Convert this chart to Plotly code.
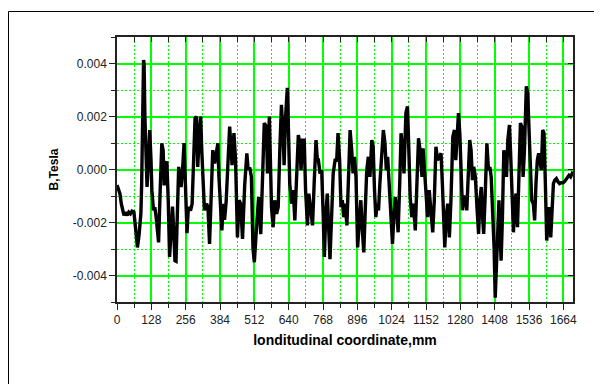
import plotly.graph_objects as go

# ---- data ----
x_mm = [0, 6, 11, 16, 26, 31, 38, 44, 50, 56, 63, 70, 76, 82, 89, 92, 96, 99, 101, 104,
        112, 118, 122, 127, 130, 136, 141, 146, 155, 161, 167, 172, 176, 182, 186, 191, 196,
        202, 207, 211, 216, 220, 226, 230, 235, 239, 245, 250, 255, 261, 266, 274, 280, 285,
        291, 296, 301, 307, 312, 316, 321, 326, 334, 339, 345, 351, 357, 364, 370, 376, 380,
        385, 391, 396, 401, 407, 414, 420, 429, 436, 442, 449, 455, 461, 468, 476, 484, 489,
        495, 501, 507, 512, 520, 528, 536, 543, 549, 557, 561, 568,
        576, 582, 588, 595, 601, 607, 613, 619, 623, 628, 635, 638, 644, 651, 657, 663, 669,
        676, 682, 686, 692, 698, 703, 710, 715, 722, 729, 735, 742, 747, 750, 757, 763, 769,
        773, 778, 784, 789, 794, 800, 806, 813, 819, 824, 830, 835, 840, 845, 851, 857, 862,
        869, 875, 880, 885, 891, 897, 903, 909, 914, 920, 925, 931, 937, 943, 950, 955, 960,
        965, 970, 975, 980, 987, 993, 999, 1004, 1009, 1014, 1020, 1027, 1032, 1037, 1042,
        1048, 1054, 1059, 1065, 1070, 1077, 1083, 1088, 1093, 1099, 1105, 1112, 1118, 1124,
        1130, 1137, 1141,
        1146, 1152, 1158, 1164, 1170, 1177, 1183, 1189, 1195, 1202, 1208, 1213, 1218, 1222,
        1227, 1233, 1239, 1245, 1252, 1258, 1263, 1268, 1273, 1278, 1283, 1288, 1293, 1299,
        1304, 1309, 1315, 1320, 1325, 1330, 1336, 1342, 1348, 1353, 1358, 1363, 1367, 1372,
        1379, 1385, 1390, 1395, 1401, 1406, 1410, 1415, 1420, 1424, 1428, 1432, 1437, 1442,
        1447, 1452, 1457, 1463, 1467, 1472, 1478, 1483, 1488, 1493, 1498, 1504, 1509, 1514,
        1519, 1526, 1531, 1536, 1541, 1546, 1552, 1557, 1562, 1567, 1572, 1577, 1582, 1587,
        1592, 1597, 1602, 1607, 1612, 1617, 1622, 1627, 1632, 1638, 1644, 1650, 1656, 1663,
        1669, 1675, 1680, 1685, 1691, 1697, 1700]

b_mT = [-0.59, -0.75, -0.91, -1.29, -1.73, -1.62, -1.73, -1.61, -1.67, -1.57, -1.6, -2.3, -2.94,
        -2.5, -1.67, -0.53, 2.0, 4.13, 4.0, 2.0,
        -0.66, 0.5, 1.49, 0.3, -0.78, -1.54, -1.42, -1.8, -2.75, -0.78, 0.99, 0.73, -0.6, 0.23,
        0.3, -1.16, -3.3, -2.3, -1.4, -2.2, -3.44, -3.46, -0.91, 0.1, -0.4, -0.66, 0.1, 1.0,
        -0.53, -2.4, -1.42, -1.55, -1.3, -0.03, 1.94, 2.0, 0.1, 1.37, 2.0, 0.73, -0.53, -1.54,
        -1.29, -1.42, -2.81, -1.16, 0.73, 0.23, 0.73, 0.99, -0.28, -1.16, -2.3, -1.3, -1.9,
        -1.2, 0.5, 1.62, 0.16, 1.37, 0.35, -2.56, -1.16, -1.29, -2.62, -0.6, 0.61, 0.0, 0.07,
        -0.28, -3.0, -3.5, -2.2, -1.04, -2.44, -0.4, 1.75, 1.62, -0.15, 2.0,
        -1.42, -2.18, -1.16, -1.67, -1.42, 0.73, 2.44, 1.37, 0.16, 1.9, 3.08, 2.0, -0.53, -1.29,
        -0.78, -1.92, -0.53, 1.3, 0.99, -0.03, 1.11, 1.11, -0.78, -2.11, -0.91, -1.42, -2.11,
        -0.53, 1.11, 0.35, 0.42, -0.15, -0.03, -1.8, -3.3, -1.8, -0.91, -2.18, -3.38, -1.8,
        -0.15, 0.35, 0.35, 1.37, 0.35, -1.42, -1.16, -1.8, -1.29, -2.11, -0.28, 1.49, 0.73,
        -0.15, 0.48, -0.28, -2.94, -1.8, -1.16, -2.18, -3.13, -1.67, -0.03, 0.48, -0.28, 1.11,
        0.86, -0.78, -1.8, -1.29, -1.54, -0.53, 0.48, 1.49, 0.99, -0.03, 0.48, -0.53, -1.54,
        -2.81, -1.8, -1.04, -1.42, -2.37, -0.53, 1.37, 0.73, -0.15, 2.13, 2.38, 0.73, -1.04,
        -1.8, -1.29, -2.3, -0.53, 1.18, 0.73, -0.28, 0.8,
        -0.03, -1.16, -1.8, -0.78, -1.67, -2.37, -1.16, 0.86, 0.35, 0.48, 0.61, -0.53, -2.0,
        -2.94, -1.8, -1.29, -2.56, -1.16, 1.24, 1.49, 0.35, 1.24, 2.13, 1.37, -0.53, -1.54,
        -1.04, -1.04, -1.54, -0.53, 1.11, 0.73, -0.4, 0.1, -0.28, -1.42, -2.43, -1.16, -0.66,
        -1.8, -2.43, -1.16, 0.99, -0.03, 0.1, -0.28, -1.8, -3.0, -4.84, -3.3, -2.05, -1.16,
        -2.4, -3.44, -1.8, 0.73, 0.35, -0.28, 1.11, 1.68, 0.73, -0.91, -2.37, -1.16, -0.91,
        -2.18, -0.53, 1.75, 1.62, -0.28, 0.73, 3.14, 2.88, 1.37, -0.53, -1.16, -1.29, -1.92,
        -0.53, 0.35, 0.61, 0.23, -0.03, 1.49, 1.37, -0.53, -2.68, -2.05, -1.42, -2.56, -1.16,
        -0.53, -0.4, -0.34, -0.46, -0.53, -0.5, -0.5, -0.45, -0.34, -0.3, -0.22, -0.28, -0.15,
        -0.18]

b_tesla = [v / 1000.0 for v in b_mT]

x_tick_vals = [0, 128, 256, 384, 512, 640, 768, 896, 1024, 1152, 1280, 1408, 1536, 1664]
x_tick_text = [str(v) for v in x_tick_vals]
y_tick_vals = [-0.004, -0.002, 0.0, 0.002, 0.004]
y_tick_text = ["-0.004", "-0.002", "0.000", "0.002", "0.004"]

x_title = "londitudinal coordinate,mm"
y_title = "B,Tesla"

# ---- figure ----
# the page body has an 8px default margin, so the figure is placed at (8, 8)
OFF = 8
W, H = 602 - OFF, 384 - OFF
ML, MT = 117 - OFF, 37 - OFF
MR = W - (573 - OFF)
MB = H - (302 - OFF)
GREEN = "#00ff00"
AXC = "#222222"
FONT = "Liberation Sans, Arial, sans-serif"

fig = go.Figure()
fig.add_trace(go.Scatter(x=x_mm, y=b_tesla, mode="lines",
                         line=dict(color="black", width=3.4),
                         showlegend=False, hoverinfo="skip"))
fig.add_trace(go.Scatter(x=[None], y=[None], xaxis="x2", yaxis="y2",
                         showlegend=False, hoverinfo="skip"))

fig.update_layout(
    width=W, height=H, template=None,
    paper_bgcolor="white", plot_bgcolor="white",
    margin=dict(l=ML, r=MR, t=MT, b=MB, pad=0),
    font=dict(family=FONT, size=12, color=AXC),
    showlegend=False,
    xaxis=dict(
        range=[0, 1700], tickmode="array", tickvals=x_tick_vals, ticktext=x_tick_text,
        ticks="outside", ticklen=6, tickwidth=1, tickcolor=AXC,
        showline=True, linecolor=AXC, linewidth=1.5, mirror=True,
        showgrid=True, gridcolor=GREEN, gridwidth=1.6,
        minor=dict(dtick=64, tick0=0, ticks="outside", ticklen=4, tickcolor=AXC,
                   showgrid=False),
        zeroline=False, automargin=False,
        tickfont=dict(size=12, color=AXC),
        title=dict(text=x_title, font=dict(size=14, color="black", weight="bold"), standoff=9),
    ),
    yaxis=dict(
        range=[-0.005, 0.005], tickmode="array", tickvals=y_tick_vals, ticktext=y_tick_text,
        ticks="outside", ticklen=6, tickwidth=1, tickcolor=AXC,
        showline=True, linecolor=AXC, linewidth=1.5, mirror=True,
        showgrid=True, gridcolor=GREEN, gridwidth=1.6,
        minor=dict(dtick=0.001, tick0=0, ticks="outside", ticklen=4, tickcolor=AXC,
                   showgrid=False),
        zeroline=False, automargin=False,
        tickfont=dict(size=12, color=AXC),
        title=dict(text=y_title, font=dict(size=12, color="black", weight="bold"), standoff=12),
    ),
    # top / right axes: inward ticks and the dotted 64 mm / 0.001 T grid
    xaxis2=dict(
        overlaying="x", side="top", range=[0, 1700], tickmode="linear", tick0=0, dtick=64,
        showticklabels=False, ticks="inside", ticklen=5, tickcolor=AXC,
        showgrid=True, gridcolor=GREEN, gridwidth=1.2, griddash="2px,2px",
        zeroline=False, showline=False, automargin=False,
    ),
    yaxis2=dict(
        overlaying="y", side="right", range=[-0.005, 0.005], tickmode="linear", tick0=0,
        dtick=0.001, showticklabels=False, ticks="inside", ticklen=5, tickcolor=AXC,
        showgrid=True, gridcolor=GREEN, gridwidth=1.2, griddash="2px,2px",
        zeroline=False, showline=False, automargin=False,
    ),
)

# outer frame of the original figure page (figure pixel coords -> paper coords)
pw, ph = W - ML - MR, H - MT - MB
def px(xp):
    return (xp - ML) / pw
def py(yp):
    return (H - MB - yp) / ph
fx0, fx1, fy0, fy1 = 0.5, 594.5 - OFF, 11.5 - OFF, H + 10
fig.add_shape(type="path", xref="paper", yref="paper",
              path=(f"M {px(fx0)} {py(fy1)} L {px(fx0)} {py(fy0)} "
                    f"L {px(fx1)} {py(fy0)} L {px(fx1)} {py(fy1)}"),
              line=dict(color="black", width=1), layer="above")

fig.write_html("out.html")
